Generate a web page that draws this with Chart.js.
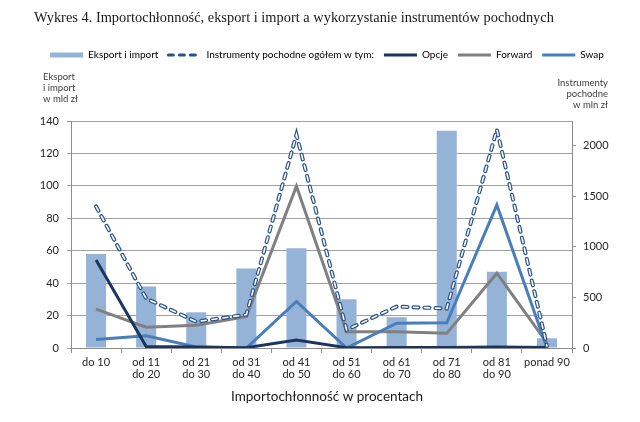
<!DOCTYPE html>
<html><head><meta charset="utf-8">
<script src="https://cdn.jsdelivr.net/npm/chart.js@4.4.1/dist/chart.umd.min.js"></script>
<style>html,body{margin:0;padding:0;background:#fff}#wrap{width:640px;height:422px}</style>
</head><body><div id="wrap"><canvas id="c" width="640" height="422"></canvas></div>
<script>
const categories = [['do 10'], ['od 11','do 20'], ['od 21','do 30'], ['od 31','do 40'], ['od 41','do 50'], ['od 51','do 60'], ['od 61','do 70'], ['od 71','do 80'], ['od 81','do 90'], ['ponad 90']];
const eksportImport = [58, 38, 22, 49, 61.5, 30, 19, 134, 47, 6];
const instrumenty = [1400, 490, 260, 330, 2110, 180, 410, 390, 2160, 20];
const opcje = [870, 15, 10, 3, 80, 3, 5, 5, 10, 5];
const forward = [385, 205, 225, 310, 1600, 160, 160, 145, 740, 50];
const swap = [85, 120, 10, 0, 460, 0, 245, 250, 1415, 0];
const leftTickValues = [0, 20, 40, 60, 80, 100, 120, 140];
const rightTickValues = [0, 500, 1000, 1500, 2000];
const rightMax = 2245;

const titleText = 'Wykres 4. Importochłonność, eksport i import a wykorzystanie instrumentów pochodnych';
const leftCaption = ['Eksport', 'i import', 'w mld zł'];
const rightCaption = ['Instrumenty', 'pochodne', 'w mln zł'];
const xTitle = 'Importochłonność w procentach';

const BAR = '#95b3d7', DASH = '#29538c', OPC = '#1c3560', FWD = '#808080', SWP = '#4a7ebb';
const FONT = 'Lato, "Open Sans", sans-serif';
const DASHPAT = [5, 6];

const PAD_L = 14, PAD_T = 40, AREA = {left: 71, right: 572, top: 121, bottom: 348};

const textPlugin = {
  id: 'texts',
  beforeInit(chart) {
    const lg = chart.legend;
    const orig = lg.fit;
    lg.fit = function () { orig.call(this); this.height = AREA.top - PAD_T; };
  },
  afterDraw(chart) {
    const ctx = chart.ctx;
    ctx.save();
    ctx.fillStyle = '#1a1a1a';
    ctx.font = '14.4px "Liberation Serif", "Times New Roman", serif';
    ctx.textBaseline = 'middle';
    ctx.textAlign = 'left';
    ctx.fillText(titleText, 34, 18);
    ctx.fillStyle = '#404040';
    ctx.font = '9.5px ' + FONT;
    leftCaption.forEach((t, i) => ctx.fillText(t, 43, 77 + i * 11));
    ctx.textAlign = 'right';
    rightCaption.forEach((t, i) => ctx.fillText(t, 608, 83 + i * 11));
    ctx.textAlign = 'center';
    ctx.fillStyle = '#1a1a1a';
    ctx.font = '13.5px ' + FONT;
    ctx.fillText(xTitle, 327, 397);
    ctx.restore();
  }
};

const lineDs = (label, data, color, order) => ({
  type: 'line', label, data, yAxisID: 'y1', borderColor: color, backgroundColor: color,
  borderWidth: 3, pointRadius: 0, tension: 0, order, fill: false
});

new Chart(document.getElementById('c'), {
  data: {
    labels: categories,
    datasets: [
      {type: 'bar', label: 'Eksport i import', data: eksportImport, yAxisID: 'y', backgroundColor: BAR,
       barPercentage: 0.4, categoryPercentage: 1, order: 10},
      {type: 'line', label: 'Instrumenty pochodne ogółem w tym:', data: instrumenty, yAxisID: 'y1',
       borderColor: DASH, borderWidth: 4, borderDash: DASHPAT, borderCapStyle: 'round', pointRadius: 0, tension: 0, order: 1, fill: false},
      {type: 'line', label: '_inner', data: instrumenty, yAxisID: 'y1',
       borderColor: '#ffffff', borderWidth: 1.6, borderDash: DASHPAT, borderCapStyle: 'round', pointRadius: 0, tension: 0, order: 0, fill: false},
      lineDs('Opcje', opcje, OPC, 2),
      lineDs('Forward', forward, FWD, 4),
      lineDs('Swap', swap, SWP, 3)
    ]
  },
  options: {
    responsive: false, animation: false, devicePixelRatio: 1,
    layout: {padding: {left: PAD_L, right: 0, top: PAD_T, bottom: 0}},
    plugins: {
      tooltip: {enabled: false},
      title: {display: false},
      legend: {
        position: 'top',
        labels: {
          usePointStyle: true, pointStyleWidth: 33, boxHeight: 5, padding: 10,
          color: '#404040', font: {family: FONT, size: 10},
          generateLabels() {
            return [
              {text: 'Eksport i import', fillStyle: BAR, strokeStyle: BAR, lineWidth: 0, pointStyle: 'rect', datasetIndex: 0, hidden: false},
              {text: 'Instrumenty pochodne ogółem w tym:', fillStyle: '#fff', strokeStyle: DASH, lineWidth: 3, lineDash: DASHPAT, lineCap: 'round', pointStyle: 'line', datasetIndex: 1, hidden: false},
              {text: 'Opcje', fillStyle: OPC, strokeStyle: OPC, lineWidth: 3, pointStyle: 'line', datasetIndex: 3, hidden: false},
              {text: 'Forward', fillStyle: FWD, strokeStyle: FWD, lineWidth: 3, pointStyle: 'line', datasetIndex: 4, hidden: false},
              {text: 'Swap', fillStyle: SWP, strokeStyle: SWP, lineWidth: 3, pointStyle: 'line', datasetIndex: 5, hidden: false}
            ];
          }
        }
      }
    },
    scales: {
      x: {
        offset: true,
        grid: {display: true, drawOnChartArea: false, offset: true, color: '#8c8c8c', tickLength: 5},
        border: {color: '#8c8c8c'},
        ticks: {color: '#262626', font: {family: FONT, size: 11, lineHeight: 1.1}, padding: 3, maxRotation: 0, autoSkip: false},
        afterFit(s) { s.height = 422 - AREA.bottom; }
      },
      y: {
        position: 'left', min: leftTickValues[0], max: leftTickValues[leftTickValues.length - 1],
        ticks: {color: '#262626', font: {family: FONT, size: 11}, padding: 8, callback: v => String(v)},
        afterBuildTicks(s) { s.ticks = leftTickValues.map(v => ({value: v})); },
        grid: {color: '#a0a0a0', tickLength: 4},
        border: {color: '#8c8c8c'},
        afterFit(s) { s.width = AREA.left - PAD_L; }
      },
      y1: {
        position: 'right', min: rightTickValues[0], max: rightMax,
        ticks: {color: '#262626', font: {family: FONT, size: 11}, padding: 7, callback: v => String(v)},
        afterBuildTicks(s) { s.ticks = rightTickValues.map(v => ({value: v})); },
        grid: {drawOnChartArea: false, color: '#8c8c8c', tickLength: 4},
        border: {color: '#8c8c8c'},
        afterFit(s) { s.width = 640 - AREA.right; }
      }
    }
  },
  plugins: [textPlugin]
});
</script></body></html>
